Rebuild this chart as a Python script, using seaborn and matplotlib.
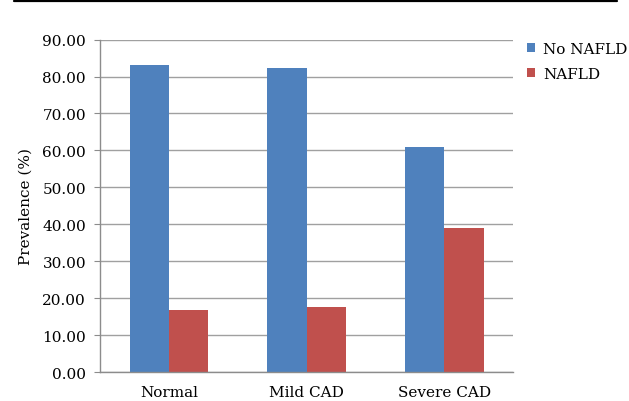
import pandas as pd
import matplotlib.pyplot as plt
import seaborn as sns
from matplotlib.lines import Line2D

# valores
grupos = ['Normal', 'Mild CAD', 'Severe CAD']
no_nafld = [83.2, 82.3, 60.9]
nafld = [16.8, 17.7, 39.1]
series = ['No NAFLD', 'NAFLD']
cores = ['#4F81BD', '#C0504D']
yticks = [0, 10, 20, 30, 40, 50, 60, 70, 80, 90]

df = pd.DataFrame({
    'grupo': grupos * 2,
    'serie': [series[0]] * 3 + [series[1]] * 3,
    'valor': no_nafld + nafld,
})

sns.set_style('white')
plt.rcParams['font.family'] = ['DejaVu Serif']
plt.rcParams['text.color'] = 'black'
plt.rcParams['axes.labelcolor'] = 'black'
plt.rcParams['xtick.color'] = 'black'
plt.rcParams['ytick.color'] = 'black'

fig = plt.figure(figsize=(6.29, 4.02), dpi=100)
ax = fig.add_axes([0.159, 0.072, 0.657, 0.827])

sns.barplot(data=df, x='grupo', y='valor', hue='serie', palette=cores,
            width=0.57, saturation=1, linewidth=0, ax=ax, legend=True)

ax.set_ylim(0, 90)
ax.set_xlim(-0.5, 2.5)
ax.set_yticks(yticks)
ax.set_yticklabels([f'{v:.2f}' for v in yticks], fontsize=11)
ax.set_ylabel('Prevalence (%)', fontsize=11, labelpad=7)
ax.set_xlabel('')
ax.tick_params(axis='x', which='major', length=0, labelsize=11, pad=9)
ax.set_xticks([-0.5, 0.5, 1.5, 2.5], minor=True)
ax.tick_params(axis='x', which='minor', length=4, color='#8C8C8C', direction='out')
ax.tick_params(axis='y', length=4, color='#8C8C8C', labelcolor='black',
               direction='out', left=True, pad=6)
ax.yaxis.grid(True, color='#A0A0A0', linewidth=1)
ax.set_axisbelow(True)

for lado in ['top', 'right']:
    ax.spines[lado].set_visible(False)
for lado in ['left', 'bottom']:
    ax.spines[lado].set_color('#8C8C8C')
    ax.spines[lado].set_linewidth(1)

leg = ax.legend(loc='upper left', bbox_to_anchor=(1.0, 1.035), frameon=False,
                fontsize=11, handlelength=0.55, handleheight=0.55,
                handletextpad=0.5, labelspacing=0.72)

# linha preta no topo da figura
fig.add_artist(Line2D([0.022, 0.981], [0.996, 0.996], color='black', linewidth=1.6,
                      transform=fig.transFigure))

fig.savefig('out.png', dpi=100)
